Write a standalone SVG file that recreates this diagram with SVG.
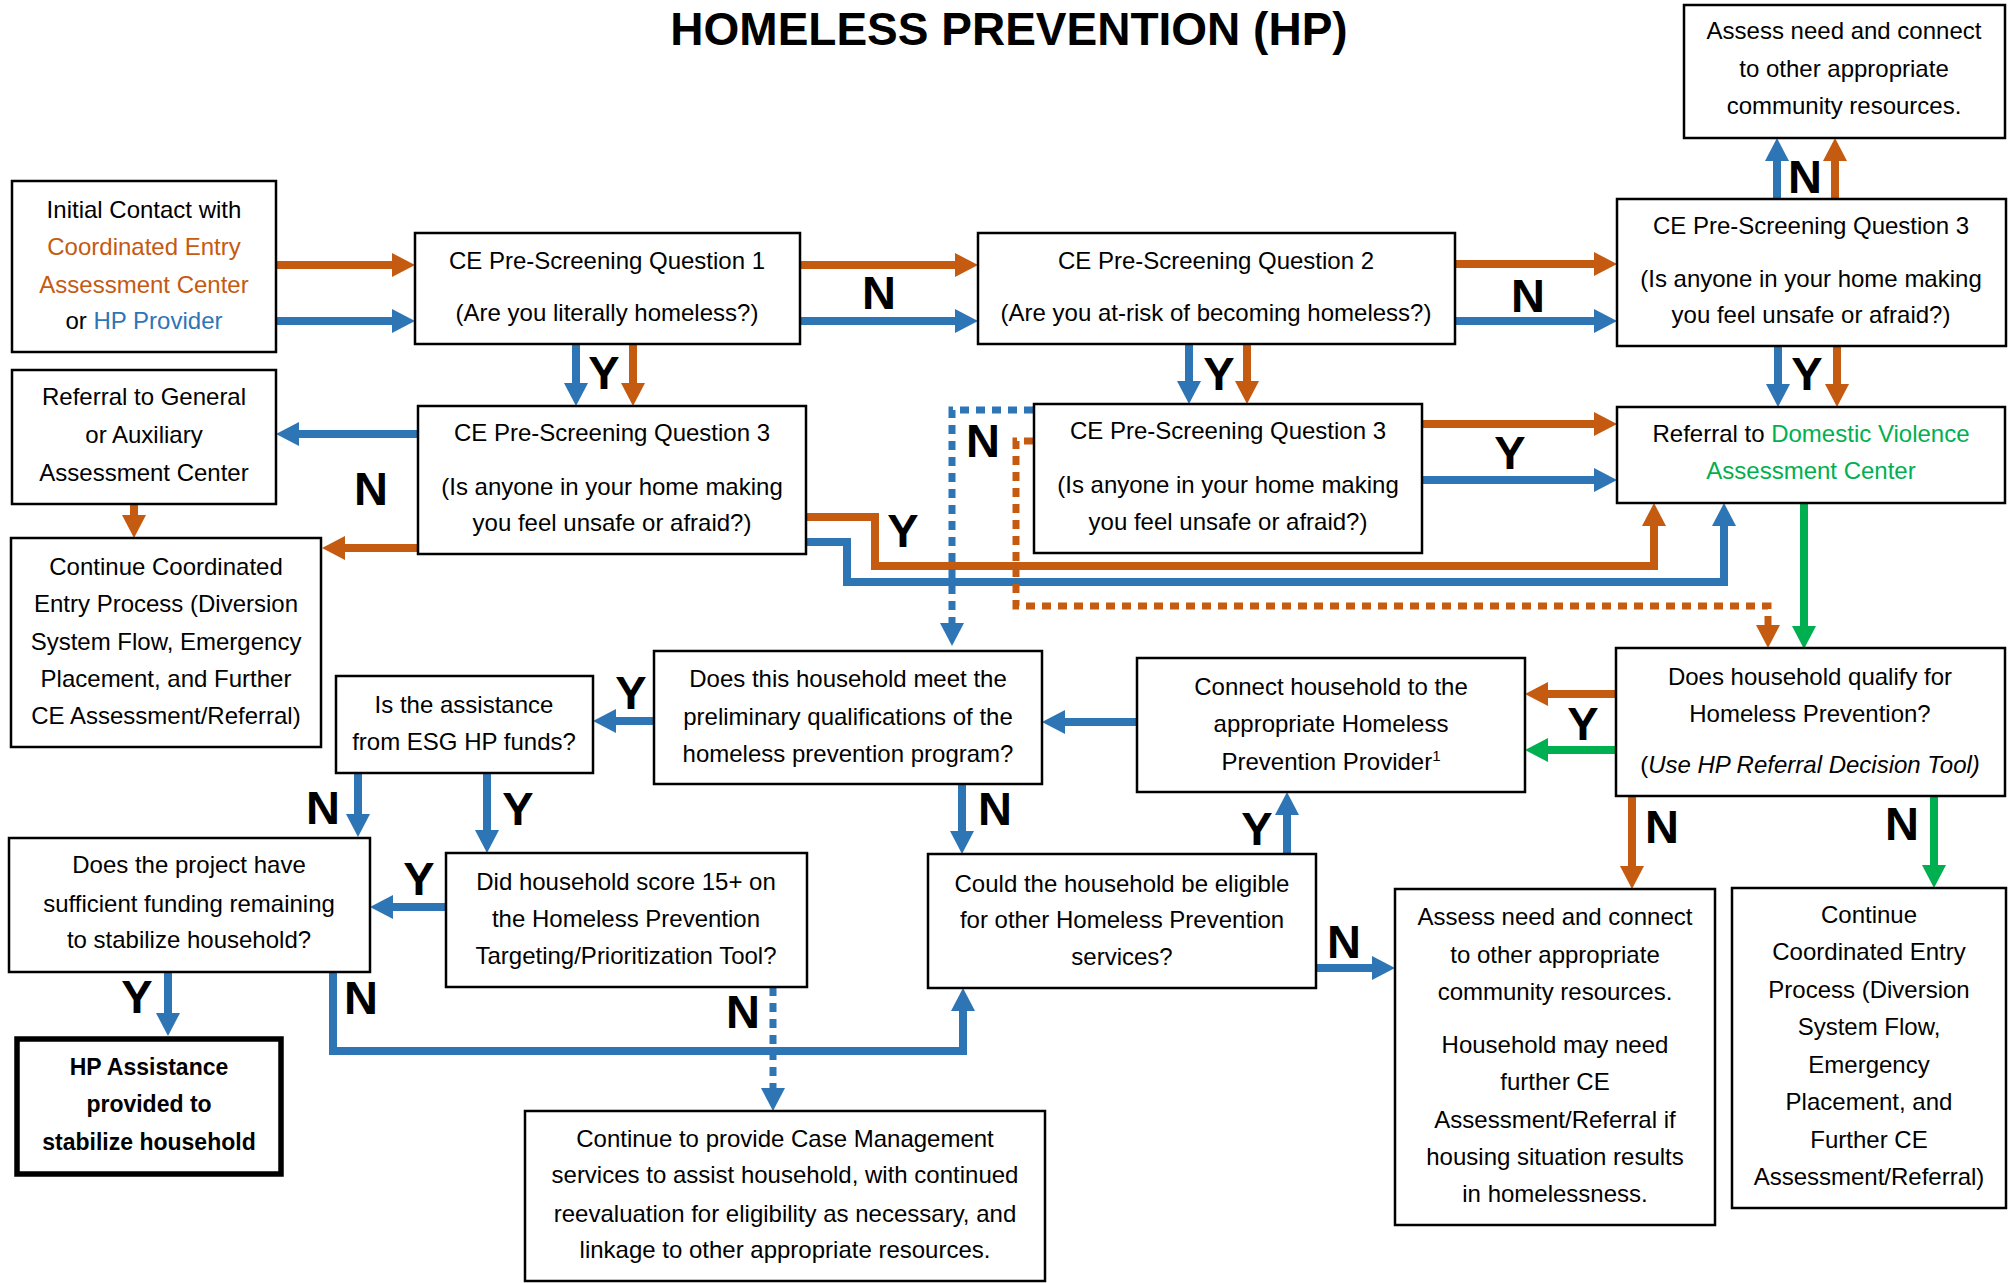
<svg xmlns="http://www.w3.org/2000/svg" width="2013" height="1283" viewBox="0 0 2013 1283">
<style>
.box{fill:#fff;stroke:#000;stroke-width:2.5}
.thick{fill:#fff;stroke:#000;stroke-width:5.5}
.t{font-family:"Liberation Sans",Arial,sans-serif;font-size:24px;text-anchor:middle;fill:#000}
.bt{font-weight:bold;font-size:23px}
.lbl{font-family:"Liberation Sans",Arial,sans-serif;font-weight:bold;font-size:47px;text-anchor:middle;fill:#000}
.title{font-family:"Liberation Sans",Arial,sans-serif;font-weight:bold;font-size:46px;text-anchor:middle;fill:#000}
.co{fill:#C55A11}.cb{fill:#2E75B6}.cg{fill:#00B050}
.o{fill:none;stroke:#C55A11;stroke-width:8}
.b{fill:none;stroke:#2E75B6;stroke-width:8}
.g{fill:none;stroke:#00B050;stroke-width:8}
.dot{stroke-width:7;stroke-dasharray:9 7}
</style>
<defs>
<marker id="ao" markerUnits="userSpaceOnUse" markerWidth="24" markerHeight="24" refX="0" refY="12" orient="auto"><path d="M0,0 L23,12 L0,24 z" fill="#C55A11"/></marker>
<marker id="ab" markerUnits="userSpaceOnUse" markerWidth="24" markerHeight="24" refX="0" refY="12" orient="auto"><path d="M0,0 L23,12 L0,24 z" fill="#2E75B6"/></marker>
<marker id="ag" markerUnits="userSpaceOnUse" markerWidth="24" markerHeight="24" refX="0" refY="12" orient="auto"><path d="M0,0 L23,12 L0,24 z" fill="#00B050"/></marker>
</defs>
<rect width="2013" height="1283" fill="#fff"/>
<text class="title" x="1009" y="45">HOMELESS PREVENTION (HP)</text>

<g id="connectors">
<path class="o" d="M276,265 H392" marker-end="url(#ao)"/>
<path class="b" d="M276,321 H392" marker-end="url(#ab)"/>
<path class="o" d="M800,265 H955" marker-end="url(#ao)"/>
<path class="b" d="M800,321 H955" marker-end="url(#ab)"/>
<path class="o" d="M1455,264 H1594" marker-end="url(#ao)"/>
<path class="b" d="M1455,321 H1594" marker-end="url(#ab)"/>
<path class="b" d="M1777,199 V161" marker-end="url(#ab)"/>
<path class="o" d="M1835,199 V161" marker-end="url(#ao)"/>
<path class="b" d="M576,345 V383" marker-end="url(#ab)"/>
<path class="o" d="M633,345 V383" marker-end="url(#ao)"/>
<path class="b" d="M1189,345 V381" marker-end="url(#ab)"/>
<path class="o" d="M1247,345 V381" marker-end="url(#ao)"/>
<path class="b" d="M1778,347 V384" marker-end="url(#ab)"/>
<path class="o" d="M1837,347 V384" marker-end="url(#ao)"/>
<path class="o" d="M1422,424 H1594" marker-end="url(#ao)"/>
<path class="b" d="M1422,480 H1594" marker-end="url(#ab)"/>
<path class="b" d="M418,434 H299" marker-end="url(#ab)"/>
<path class="o" d="M418,548 H345" marker-end="url(#ao)"/>
<path class="o" d="M134,504 V515" marker-end="url(#ao)"/>
<path class="o" d="M806,517 H875 V566 H1654 V526" marker-end="url(#ao)"/>
<path class="b" d="M806,542 H847 V582 H1724 V526" marker-end="url(#ab)"/>
<path class="b dot" d="M1033,410 H952 V623" marker-end="url(#ab)"/>
<path class="o dot" d="M1033,441 H1016 V606 H1768 V625" marker-end="url(#ao)"/>
<path class="g" d="M1804,503 V626" marker-end="url(#ag)"/>
<path class="o" d="M1616,694 H1548" marker-end="url(#ao)"/>
<path class="g" d="M1616,750 H1548" marker-end="url(#ag)"/>
<path class="b" d="M1137,722 H1065" marker-end="url(#ab)"/>
<path class="b" d="M654,721 H616" marker-end="url(#ab)"/>
<path class="b" d="M358,773 V814" marker-end="url(#ab)"/>
<path class="b" d="M487,773 V830" marker-end="url(#ab)"/>
<path class="b" d="M446,907 H393" marker-end="url(#ab)"/>
<path class="b" d="M168,972 V1013" marker-end="url(#ab)"/>
<path class="b" d="M333,972 V1051 H963 V1011" marker-end="url(#ab)"/>
<path class="b dot" d="M773,987 V1088" marker-end="url(#ab)"/>
<path class="b" d="M962,784 V831" marker-end="url(#ab)"/>
<path class="b" d="M1287,854 V815" marker-end="url(#ab)"/>
<path class="b" d="M1316,968 H1372" marker-end="url(#ab)"/>
<path class="o" d="M1632,796 V866" marker-end="url(#ao)"/>
<path class="g" d="M1934,796 V865" marker-end="url(#ag)"/>
</g>

<g id="labels">
<text class="lbl" x="879" y="309">N</text>
<text class="lbl" x="1528" y="312">N</text>
<text class="lbl" x="1805" y="193">N</text>
<text class="lbl" x="604" y="389">Y</text>
<text class="lbl" x="1219" y="390">Y</text>
<text class="lbl" x="1807" y="390">Y</text>
<text class="lbl" x="1510" y="469">Y</text>
<text class="lbl" x="371" y="505">N</text>
<text class="lbl" x="903" y="547">Y</text>
<text class="lbl" x="983" y="457">N</text>
<text class="lbl" x="631" y="709">Y</text>
<text class="lbl" x="1583" y="740">Y</text>
<text class="lbl" x="323" y="824">N</text>
<text class="lbl" x="518" y="825">Y</text>
<text class="lbl" x="419" y="895">Y</text>
<text class="lbl" x="995" y="825">N</text>
<text class="lbl" x="1257" y="845">Y</text>
<text class="lbl" x="1344" y="958">N</text>
<text class="lbl" x="1662" y="843">N</text>
<text class="lbl" x="1902" y="840">N</text>
<text class="lbl" x="137" y="1013">Y</text>
<text class="lbl" x="361" y="1014">N</text>
<text class="lbl" x="743" y="1028">N</text>
</g>

<g id="initial-contact">
<rect class="box" x="12" y="181" width="264" height="171"/>
<text class="t" x="144" y="218">Initial Contact with</text>
<text class="t co" x="144" y="255">Coordinated Entry</text>
<text class="t co" x="144" y="293">Assessment Center</text>
<text class="t" x="144" y="329">or <tspan class="cb">HP Provider</tspan></text>
</g>

<g id="q1">
<rect class="box" x="415" y="233" width="385" height="111"/>
<text class="t" x="607" y="269">CE Pre-Screening Question 1</text>
<text class="t" x="607" y="321">(Are you literally homeless?)</text>
</g>

<g id="q2">
<rect class="box" x="978" y="233" width="477" height="111"/>
<text class="t" x="1216" y="269">CE Pre-Screening Question 2</text>
<text class="t" x="1216" y="321">(Are you at-risk of becoming homeless?)</text>
</g>

<g id="q3-right">
<rect class="box" x="1617" y="199" width="389" height="147"/>
<text class="t" x="1811" y="234">CE Pre-Screening Question 3</text>
<text class="t" x="1811" y="287">(Is anyone in your home making</text>
<text class="t" x="1811" y="323">you feel unsafe or afraid?)</text>
</g>

<g id="assess-top">
<rect class="box" x="1684" y="5" width="321" height="133"/>
<text class="t" x="1844" y="39">Assess need and connect</text>
<text class="t" x="1844" y="77">to other appropriate</text>
<text class="t" x="1844" y="114">community resources.</text>
</g>

<g id="referral-general">
<rect class="box" x="12" y="370" width="264" height="134"/>
<text class="t" x="144" y="405">Referral to General</text>
<text class="t" x="144" y="443">or Auxiliary</text>
<text class="t" x="144" y="481">Assessment Center</text>
</g>

<g id="q3-left">
<rect class="box" x="418" y="406" width="388" height="148"/>
<text class="t" x="612" y="441">CE Pre-Screening Question 3</text>
<text class="t" x="612" y="495">(Is anyone in your home making</text>
<text class="t" x="612" y="531">you feel unsafe or afraid?)</text>
</g>

<g id="q3-center">
<rect class="box" x="1034" y="404" width="388" height="149"/>
<text class="t" x="1228" y="439">CE Pre-Screening Question 3</text>
<text class="t" x="1228" y="493">(Is anyone in your home making</text>
<text class="t" x="1228" y="530">you feel unsafe or afraid?)</text>
</g>

<g id="referral-dv">
<rect class="box" x="1617" y="407" width="388" height="96"/>
<text class="t" x="1811" y="442">Referral to <tspan class="cg">Domestic Violence</tspan></text>
<text class="t cg" x="1811" y="479">Assessment Center</text>
</g>

<g id="continue-left">
<rect class="box" x="11" y="538" width="310" height="209"/>
<text class="t" x="166" y="575">Continue Coordinated</text>
<text class="t" x="166" y="612">Entry Process (Diversion</text>
<text class="t" x="166" y="650">System Flow, Emergency</text>
<text class="t" x="166" y="687">Placement, and Further</text>
<text class="t" x="166" y="724">CE Assessment/Referral)</text>
</g>

<g id="esg-funds">
<rect class="box" x="336" y="676" width="257" height="97"/>
<text class="t" x="464" y="713">Is the assistance</text>
<text class="t" x="464" y="750">from ESG HP funds?</text>
</g>

<g id="preliminary">
<rect class="box" x="654" y="651" width="388" height="133"/>
<text class="t" x="848" y="687">Does this household meet the</text>
<text class="t" x="848" y="725">preliminary qualifications of the</text>
<text class="t" x="848" y="762">homeless prevention program?</text>
</g>

<g id="connect-provider">
<rect class="box" x="1137" y="658" width="388" height="134"/>
<text class="t" x="1331" y="695">Connect household to the</text>
<text class="t" x="1331" y="732">appropriate Homeless</text>
<text class="t" x="1331" y="770">Prevention Provider<tspan font-size="15" dy="-9">1</tspan></text>
</g>

<g id="qualify">
<rect class="box" x="1616" y="648" width="389" height="148"/>
<text class="t" x="1810" y="685">Does household qualify for</text>
<text class="t" x="1810" y="722">Homeless Prevention?</text>
<text class="t" x="1810" y="773">(<tspan font-style="italic">Use HP Referral Decision Tool)</tspan></text>
</g>

<g id="funding">
<rect class="box" x="9" y="838" width="361" height="134"/>
<text class="t" x="189" y="873">Does the project have</text>
<text class="t" x="189" y="912">sufficient funding remaining</text>
<text class="t" x="189" y="948">to stabilize household?</text>
</g>

<g id="score">
<rect class="box" x="446" y="853" width="361" height="134"/>
<text class="t" x="626" y="890">Did household score 15+ on</text>
<text class="t" x="626" y="927">the Homeless Prevention</text>
<text class="t" x="626" y="964">Targeting/Prioritization Tool?</text>
</g>

<g id="other-eligible">
<rect class="box" x="928" y="854" width="388" height="134"/>
<text class="t" x="1122" y="892">Could the household be eligible</text>
<text class="t" x="1122" y="928">for other Homeless Prevention</text>
<text class="t" x="1122" y="965">services?</text>
</g>

<g id="hp-assistance">
<rect class="thick" x="17" y="1039" width="264" height="135"/>
<text class="t bt" x="149" y="1075">HP Assistance</text>
<text class="t bt" x="149" y="1112">provided to</text>
<text class="t bt" x="149" y="1150">stabilize household</text>
</g>

<g id="case-management">
<rect class="box" x="525" y="1111" width="520" height="170"/>
<text class="t" x="785" y="1147">Continue to provide Case Management</text>
<text class="t" x="785" y="1183">services to assist household, with continued</text>
<text class="t" x="785" y="1222">reevaluation for eligibility as necessary, and</text>
<text class="t" x="785" y="1258">linkage to other appropriate resources.</text>
</g>

<g id="assess-bottom">
<rect class="box" x="1395" y="889" width="320" height="336"/>
<text class="t" x="1555" y="925">Assess need and connect</text>
<text class="t" x="1555" y="963">to other appropriate</text>
<text class="t" x="1555" y="1000">community resources.</text>
<text class="t" x="1555" y="1053">Household may need</text>
<text class="t" x="1555" y="1090">further CE</text>
<text class="t" x="1555" y="1128">Assessment/Referral if</text>
<text class="t" x="1555" y="1165">housing situation results</text>
<text class="t" x="1555" y="1202">in homelessness.</text>
</g>

<g id="continue-right">
<rect class="box" x="1732" y="888" width="274" height="320"/>
<text class="t" x="1869" y="923">Continue</text>
<text class="t" x="1869" y="960">Coordinated Entry</text>
<text class="t" x="1869" y="998">Process (Diversion</text>
<text class="t" x="1869" y="1035">System Flow,</text>
<text class="t" x="1869" y="1073">Emergency</text>
<text class="t" x="1869" y="1110">Placement, and</text>
<text class="t" x="1869" y="1148">Further CE</text>
<text class="t" x="1869" y="1185">Assessment/Referral)</text>
</g>
</svg>
